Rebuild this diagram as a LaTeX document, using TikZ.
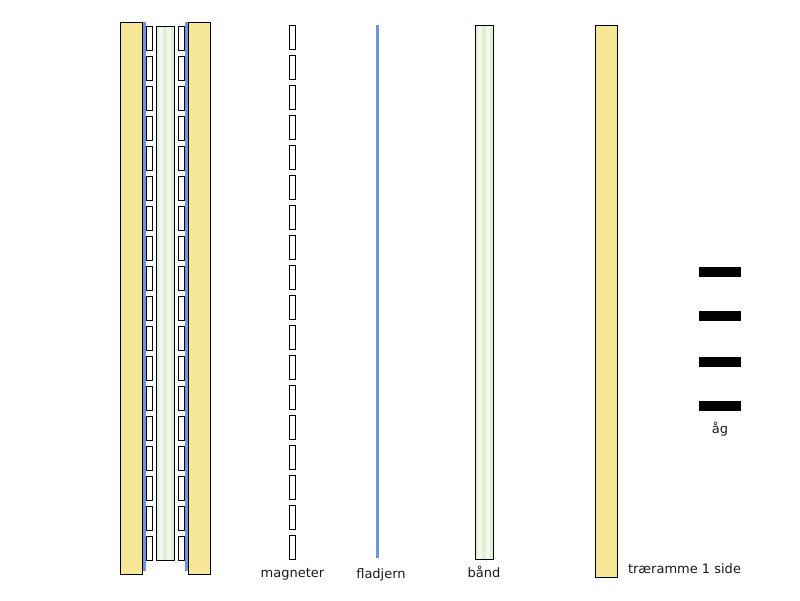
\documentclass[tikz,border=0pt]{standalone}
\usepackage{fontspec}
\setmainfont{DejaVu Sans}
\definecolor{wood}{HTML}{F5E796}
\definecolor{iron}{HTML}{7094DC}
\definecolor{bandlight}{HTML}{F4F8EE}
\definecolor{bandgreen}{HTML}{E1EFD2}
\tikzset{
  px/.style={x=1pt,y=-1pt},
  frameside/.style={draw=black,line width=1pt,fill=wood},
  ironbar/.style={fill=iron},
  magnetbox/.style={draw=black,line width=1pt,fill=white},
  bandbox/.style={fill=bandlight},
  bandline/.style={draw=black,line width=1pt},
  bandstripe/.style={fill=bandgreen},
  yokebar/.style={fill=black},
  caption/.style={font=\fontsize{13pt}{15pt}\selectfont,text=black!90,inner sep=0pt,anchor=base}
}
\newcommand{\bandstrip}[4]{% x0,y0,x1,y1
  \fill[bandbox] (#1,#2) rectangle (#3,#4);
  \fill[bandstripe] ({#1+0.36*(#3-#1)},#2) rectangle ({#1+0.60*(#3-#1)},#4);
  \fill[bandstripe] ({#1+0.78*(#3-#1)},#2) rectangle ({#1+0.96*(#3-#1)},#4);
  \fill[bandstripe] ({#1+0.04*(#3-#1)},#2) rectangle ({#1+0.16*(#3-#1)},#4);
  \draw[bandline] (#1,#2) rectangle (#3,#4);
}
\begin{document}
\begin{tikzpicture}[px]
\useasboundingbox (0,0) rectangle (800,600);
% assembled view
\fill[ironbar] (143,22) rectangle (146,571);
\fill[ironbar] (185,22) rectangle (188,571);
\draw[frameside] (120.5,22.5) rectangle (142.5,574);
\draw[frameside] (188.5,22.5) rectangle (210.5,574);
\bandstrip{156.5}{26.5}{174.5}{560}
\foreach \i in {0,...,17}{
  \draw[magnetbox] (146.5,{26.5+30*\i}) rectangle (152.5,{50.5+30*\i});
  \draw[magnetbox] (178.5,{26.5+30*\i}) rectangle (184.5,{50.5+30*\i});
}
% separate parts
\foreach \i in {0,...,17}{
  \draw[magnetbox] (289.5,{25.5+30*\i}) rectangle (295.5,{49.5+30*\i});
}
\fill[ironbar] (376,25) rectangle (379,558);
\bandstrip{475.5}{25.5}{493.5}{559}
\draw[frameside] (595.5,25.5) rectangle (617.5,577);
\fill[yokebar] (699,267) rectangle (741,277);
\fill[yokebar] (699,311) rectangle (741,321);
\fill[yokebar] (699,357) rectangle (741,367);
\fill[yokebar] (699,401) rectangle (741,411);
% labels
\node[caption] (magneter) at (292.5,577) {magneter};
\node[caption] (fladjern) at (381,578) {fladjern};
\node[caption] (baand) at (484,577) {bånd};
\node[caption] (traeramme) at (684.5,573) {træramme 1 side};
\node[caption] (aag) at (720,433) {åg};
\end{tikzpicture}
\end{document}
